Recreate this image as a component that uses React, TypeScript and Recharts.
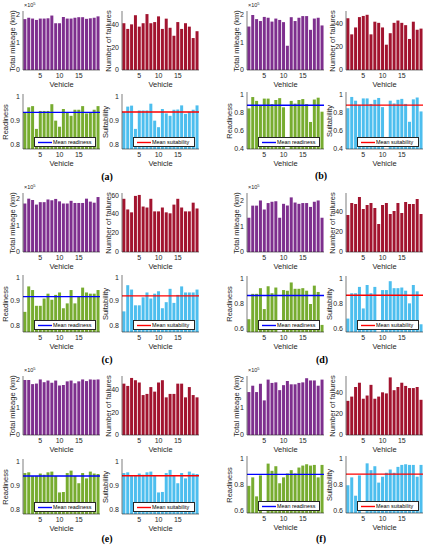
import React from 'react';
import { BarChart, Bar, XAxis, YAxis, ReferenceLine } from 'recharts';

const vehicles = [1, 2, 3, 4, 5, 6, 7, 8, 9, 10, 11, 12, 13, 14, 15, 16, 17, 18, 19, 20];
const xTickLabels = [5, 10, 15];

// (a)
const mileageA = [185000, 190000, 187000, 182000, 187000, 187000, 188000, 198000, 170000, 170000, 193000, 187000, 187000, 190000, 192000, 192000, 186000, 188000, 190000, 195000];
const failuresA = [41, 36, 40, 48, 38, 41, 49, 41, 42, 47, 36, 45, 37, 30, 42, 36, 41, 38, 28, 34];
const readinessA = [0.935, 0.955, 0.96, 0.866, 0.94, 0.94, 0.94, 0.968, 0.9, 0.875, 0.948, 0.935, 0.92, 0.945, 0.945, 0.96, 0.93, 0.935, 0.945, 0.96];
const suitabilityA = [0.936, 0.958, 0.962, 0.866, 0.942, 0.942, 0.942, 0.97, 0.9, 0.873, 0.948, 0.93, 0.92, 0.945, 0.946, 0.963, 0.928, 0.937, 0.945, 0.963];
const meansA = [0.934, 0.936];

// (b)
const mileageB = [158000, 200000, 185000, 178000, 193000, 190000, 176000, 187000, 182000, 174000, 88000, 192000, 178000, 190000, 196000, 196000, 146000, 187000, 190000, 162000];
const failuresB = [45, 31, 37, 46, 47, 48, 31, 42, 41, 37, 22, 32, 41, 43, 41, 39, 27, 42, 35, 36];
const readinessB = [0.843, 0.967, 0.925, 0.88, 0.95, 0.95, 0.89, 0.935, 0.955, 0.855, 0.3, 0.925, 0.895, 0.935, 0.945, 0.89, 0.695, 0.94, 0.96, 0.807];
const suitabilityB = [0.845, 0.968, 0.927, 0.882, 0.952, 0.952, 0.892, 0.937, 0.957, 0.857, 0.3, 0.927, 0.897, 0.937, 0.947, 0.892, 0.697, 0.942, 0.962, 0.81];
const meansB = [0.877, 0.879];

// (c)
const mileageC = [180000, 198000, 193000, 176000, 185000, 185000, 195000, 192000, 197000, 188000, 180000, 180000, 190000, 182000, 182000, 182000, 198000, 187000, 183000, 204000];
const failuresC = [55, 44, 41, 58, 59, 47, 46, 55, 42, 42, 46, 41, 40, 49, 55, 46, 42, 42, 51, 45];
const readinessC = [0.855, 0.96, 0.945, 0.88, 0.88, 0.91, 0.93, 0.905, 0.925, 0.935, 0.87, 0.89, 0.945, 0.89, 0.92, 0.955, 0.935, 0.93, 0.93, 0.945];
const suitabilityC = [0.857, 0.965, 0.947, 0.882, 0.882, 0.915, 0.935, 0.91, 0.93, 0.94, 0.87, 0.895, 0.95, 0.892, 0.925, 0.96, 0.935, 0.935, 0.935, 0.947];
const meansC = [0.918, 0.921];

// (d)
const mileageD = [133000, 180000, 180000, 200000, 165000, 190000, 195000, 197000, 133000, 187000, 180000, 212000, 192000, 187000, 190000, 190000, 175000, 195000, 200000, 133000];
const failuresD = [37, 49, 48, 55, 43, 47, 49, 44, 28, 47, 49, 38, 41, 49, 39, 50, 48, 48, 53, 38];
const readinessD = [0.675, 0.875, 0.875, 0.92, 0.755, 0.935, 0.88, 0.925, 0.3, 0.905, 0.9, 0.965, 0.915, 0.915, 0.92, 0.9, 0.795, 0.94, 0.89, 0.63];
const suitabilityD = [0.68, 0.88, 0.88, 0.93, 0.76, 0.945, 0.88, 0.93, 0.3, 0.905, 0.905, 0.975, 0.92, 0.92, 0.925, 0.9, 0.8, 0.945, 0.895, 0.635];
const meansD = [0.862, 0.864];

// (e)
const mileageE = [200000, 200000, 185000, 187000, 202000, 192000, 198000, 190000, 198000, 180000, 182000, 195000, 198000, 188000, 195000, 202000, 196000, 202000, 201000, 202000];
const failuresE = [45, 43, 50, 48, 46, 35, 36, 42, 38, 46, 48, 33, 36, 36, 45, 45, 33, 42, 35, 33];
const readinessE = [0.952, 0.955, 0.94, 0.94, 0.95, 0.945, 0.955, 0.958, 0.94, 0.872, 0.874, 0.952, 0.962, 0.94, 0.91, 0.952, 0.93, 0.958, 0.95, 0.948];
const suitabilityE = [0.952, 0.955, 0.94, 0.94, 0.95, 0.945, 0.955, 0.958, 0.94, 0.872, 0.874, 0.952, 0.965, 0.94, 0.91, 0.952, 0.93, 0.958, 0.95, 0.948];
const meansE = [0.94, 0.941];

// (f)
const mileageF = [155000, 178000, 155000, 185000, 125000, 200000, 188000, 190000, 162000, 180000, 195000, 183000, 183000, 188000, 190000, 205000, 197000, 197000, 178000, 200000];
const failuresF = [32, 36, 45, 49, 34, 37, 47, 34, 36, 40, 39, 54, 42, 45, 49, 46, 44, 44, 45, 33];
const readinessF = [0.79, 0.855, 0.71, 0.87, 0.3, 0.96, 0.905, 0.94, 0.81, 0.855, 0.885, 0.91, 0.885, 0.93, 0.945, 0.955, 0.945, 0.95, 0.855, 0.95];
const suitabilityF = [0.795, 0.855, 0.715, 0.87, 0.3, 0.962, 0.91, 0.94, 0.815, 0.86, 0.89, 0.915, 0.89, 0.935, 0.95, 0.955, 0.95, 0.95, 0.86, 0.95];
const meansF = [0.878, 0.88];

const mileageTicks = [0, 100000, 200000];
const failureTicks = [0, 20, 40];
const failureTicks60 = [0, 20, 40, 60];
const readyTicks1 = [0.8, 0.9, 1];
const readyTicks2 = [0.4, 0.6, 0.8, 1];
const readyTicks3 = [0.6, 0.8, 1];

const FONT = '"Liberation Sans", Arial, Helvetica, sans-serif';
const AXIS = '#262626';
const PURPLE = '#7E2F8E';
const RED = '#A2142F';
const GREEN = '#77AC30';
const CYAN = '#4DBEEE';

const YW = 24;
const XH = 12;
const PW = 77;

const fmtMileage = (v: number) => String(Math.round(v / 100000));
const fmtNum = (v: number) => String(v);

type SubProps = {
  left: number;
  top: number;
  h: number;
  values: number[];
  color: string;
  domain: [number, number];
  ticks: number[];
  fmt: (v: number) => string;
  ylabel: string;
  ylabelDx: number;
  mean?: number;
  meanColor?: string;
  legend?: string;
  exp?: boolean;
};

function Sub(p: SubProps) {
  const w = PW;
  const data = vehicles.map((v, i) => ({ v, y: p.values[i] }));
  const cw = w + YW + 2;
  const ch = p.h + XH + 1;
  const axisLine = { stroke: AXIS, strokeWidth: 0.6 };
  return (
    <>
      <div style={{ position: 'absolute', left: p.left - YW, top: p.top - 1, width: cw, height: ch }}>
        <BarChart width={cw} height={ch} data={data} margin={{ top: 1, right: 2, bottom: 0, left: 0 }} barCategoryGap="10%">
          <XAxis
            dataKey="v"
            type="category"
            interval={0}
            height={XH}
            tickLine={false}
            tickSize={0}
            tickMargin={3}
            axisLine={axisLine}
            tick={{ fontSize: 7, fill: AXIS, fontFamily: FONT }}
            tickFormatter={(v: number) => (xTickLabels.includes(v) ? String(v) : '')}
          />
          <XAxis xAxisId="top" dataKey="v" orientation="top" height={0} tick={false} tickLine={false} axisLine={axisLine} />
          <YAxis
            type="number"
            domain={p.domain}
            ticks={p.ticks}
            allowDataOverflow
            width={YW}
            tickLine={false}
            tickSize={0}
            tickMargin={3}
            axisLine={axisLine}
            tick={{ fontSize: 7, fill: AXIS, fontFamily: FONT }}
            tickFormatter={p.fmt}
          />
          <YAxis yAxisId="right" orientation="right" width={0} domain={[0, 1]} tick={false} tickLine={false} axisLine={axisLine} />
          <Bar dataKey="y" fill={p.color} isAnimationActive={false} />
          {p.mean !== undefined && (
            <ReferenceLine y={p.mean} stroke={p.meanColor} strokeWidth={1.4} ifOverflow="hidden" />
          )}
        </BarChart>
      </div>
      <div
        style={{
          position: 'absolute',
          left: p.left + p.ylabelDx,
          top: p.top + p.h / 2,
          transform: 'translate(-50%, -50%) rotate(-90deg)',
          whiteSpace: 'nowrap',
          fontSize: 7.5,
          lineHeight: '8px',
          fontFamily: FONT,
          color: AXIS,
        }}
      >
        {p.ylabel}
      </div>
      <div
        style={{
          position: 'absolute',
          left: p.left + w / 2,
          top: p.top + p.h + 15,
          transform: 'translate(-50%, -50%)',
          whiteSpace: 'nowrap',
          fontSize: 7.5,
          lineHeight: '8px',
          fontFamily: FONT,
          color: AXIS,
        }}
      >
        Vehicle
      </div>
      {p.exp && (
        <div
          style={{
            position: 'absolute',
            left: p.left + 1,
            top: p.top - 10,
            whiteSpace: 'nowrap',
            fontSize: 5.5,
            lineHeight: '8px',
            fontFamily: FONT,
            color: AXIS,
          }}
        >
          ×10<span style={{ fontSize: 4, verticalAlign: 'top', lineHeight: '5px' }}>5</span>
        </div>
      )}
      {p.legend && (
        <div
          style={{
            position: 'absolute',
            left: p.left + w - 4 - 62,
            top: p.top + p.h - 2 - 10,
            width: 62,
            height: 10,
            boxSizing: 'border-box',
            border: `0.6px solid ${AXIS}`,
            background: '#fff',
            fontFamily: FONT,
            fontSize: 5.4,
            lineHeight: '9px',
            color: '#000',
            whiteSpace: 'nowrap',
          }}
        >
          <svg width={16} height={9} style={{ position: 'absolute', left: 2, top: 0 }}>
            <line x1={1} y1={4.5} x2={15} y2={4.5} stroke={p.meanColor} strokeWidth={1.4} />
          </svg>
          <span style={{ position: 'absolute', left: 18, top: 0 }}>{p.legend}</span>
        </div>
      )}
    </>
  );
}

type PanelProps = {
  ox: number;
  oy: number;
  botTop: number;
  botH: number;
  label: string;
  labelX: number;
  labelY: number;
  mileage: number[];
  failures: number[];
  readiness: number[];
  suitability: number[];
  means: number[];
  mileageMax: number;
  failureMax: number;
  failTicks: number[];
  readyDomain: [number, number];
  readyTicks: number[];
};

function Panel(p: PanelProps) {
  const lx = p.ox + 23;
  const rx = p.ox + 122;
  const ty = p.oy + 11;
  const by = p.oy + p.botTop;
  return (
    <>
      <Sub left={lx} top={ty} h={59} values={p.mileage} color={PURPLE} domain={[0, p.mileageMax]} ticks={mileageTicks} fmt={fmtMileage} ylabel="Total mileage (km)" ylabelDx={-10} exp />
      <Sub left={rx} top={ty} h={59} values={p.failures} color={RED} domain={[0, p.failureMax]} ticks={p.failTicks} fmt={fmtNum} ylabel="Number of failures" ylabelDx={-13} />
      <Sub left={lx} top={by} h={p.botH} values={p.readiness} color={GREEN} domain={p.readyDomain} ticks={p.readyTicks} fmt={fmtNum} ylabel="Readiness" ylabelDx={-17} mean={p.means[0]} meanColor="#0000FF" legend="Mean readiness" />
      <Sub left={rx} top={by} h={p.botH} values={p.suitability} color={CYAN} domain={p.readyDomain} ticks={p.readyTicks} fmt={fmtNum} ylabel="Suitability" ylabelDx={-16} mean={p.means[1]} meanColor="#FF0000" legend="Mean suitability" />
      <div
        style={{
          position: 'absolute',
          left: p.labelX,
          top: p.labelY,
          transform: 'translate(-50%, -50%)',
          fontFamily: '"Liberation Serif", "Times New Roman", serif',
          fontWeight: 'bold',
          fontSize: 10,
          lineHeight: '10px',
          color: '#000',
        }}
      >
        {p.label}
      </div>
    </>
  );
}

export default function App() {
  return (
    <div style={{ position: 'absolute', left: 0, top: 0, width: 428, height: 550, background: '#fff', overflow: 'hidden' }}>
      <Panel ox={0} oy={0} botTop={94} botH={55} label="(a)" labelX={107} labelY={177}
        mileage={mileageA} failures={failuresA} readiness={readinessA} suitability={suitabilityA} means={meansA}
        mileageMax={214500} failureMax={51.7} failTicks={failureTicks} readyDomain={[0.783, 1.01]} readyTicks={readyTicks1} />
      <Panel ox={224} oy={0} botTop={92} botH={57} label="(b)" labelX={321} labelY={176}
        mileage={mileageB} failures={failuresB} readiness={readinessB} suitability={suitabilityB} means={meansB}
        mileageMax={214500} failureMax={51.3} failTicks={failureTicks} readyDomain={[0.4, 1.022]} readyTicks={readyTicks2} />
      <Panel ox={0} oy={182} botTop={93} botH={57} label="(c)" labelX={107} labelY={360}
        mileage={mileageC} failures={failuresC} readiness={readinessC} suitability={suitabilityC} means={meansC}
        mileageMax={219000} failureMax={61} failTicks={failureTicks60} readyDomain={[0.772, 1.007]} readyTicks={readyTicks1} />
      <Panel ox={224} oy={182} botTop={94} botH={56} label="(d)" labelX={322} labelY={360}
        mileage={mileageD} failures={failuresD} readiness={readinessD} suitability={suitabilityD} means={meansD}
        mileageMax={229000} failureMax={59} failTicks={failureTicks} readyDomain={[0.574, 1.016]} readyTicks={readyTicks3} />
      <Panel ox={0} oy={365} botTop={94} botH={55} label="(e)" labelX={107} labelY={539}
        mileage={mileageE} failures={failuresE} readiness={readinessE} suitability={suitabilityE} means={meansE}
        mileageMax={214500} failureMax={51.7} failTicks={failureTicks} readyDomain={[0.783, 1.01]} readyTicks={readyTicks1} />
      <Panel ox={224} oy={365} botTop={91} botH={57} label="(f)" labelX={321} labelY={539}
        mileage={mileageF} failures={failuresF} readiness={readinessF} suitability={suitabilityF} means={meansF}
        mileageMax={213000} failureMax={55.3} failTicks={failureTicks} readyDomain={[0.583, 1.018]} readyTicks={readyTicks3} />
    </div>
  );
}
